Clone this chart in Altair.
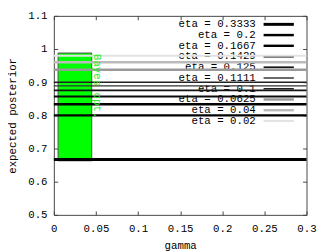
import altair as alt
import pandas as pd

# ---- data ----
etas = ["0.3333", "0.2", "0.1667", "0.1429", "0.125", "0.1111", "0.1", "0.0625", "0.04", "0.02"]
posterior = [0.6667, 0.8, 0.8333, 0.8571, 0.875, 0.8889, 0.9, 0.9375, 0.96, 0.98]
line_colors = ["#000000", "#000000", "#000000", "#0a0a0a", "#151515", "#333333", "#222222", "#9a9a9a", "#bbbbbb", "#e2e2e2"]
line_widths = [3, 2.5, 2.5, 2, 1.8, 1.5, 1.5, 2.5, 2.5, 2]
bar_gamma = [0.005, 0.045]
bar_posterior = [0.663, 0.988]
bar_label = "Bayes opt."
label_pos = [0.048, 0.985]
x_ticks = [0, 0.05, 0.1, 0.15, 0.2, 0.25, 0.3]
y_ticks = [0.5, 0.6, 0.7, 0.8, 0.9, 1.0, 1.1]
x_domain = [0, 0.3]
y_domain = [0.5, 1.1]

FONT = "Liberation Mono"
W, H = 259, 204

lines_df = pd.DataFrame({
    "eta": etas,
    "label": ["eta = " + e for e in etas],
    "posterior": posterior,
    "color": line_colors,
    "width": line_widths,
})
bar_df = pd.DataFrame({"g0": [bar_gamma[0]], "g1": [bar_gamma[1]],
                       "p0": [bar_posterior[0]], "p1": [bar_posterior[1]]})
txt_df = pd.DataFrame({"g": [label_pos[0]], "p": [label_pos[1]], "t": [bar_label]})
mirror_df = pd.DataFrame({"g": [0.0], "p": [0.5]})

xs = alt.Scale(domain=x_domain, nice=False, zero=False)
ys = alt.Scale(domain=y_domain, nice=False, zero=False)

common_axis = dict(offset=-4, tickSize=4, domain=False, grid=False,
                   tickColor="#444444", labelFont=FONT, labelFontSize=11,
                   labelColor="#000000", titleFont=FONT, titleFontSize=11,
                   titleFontWeight="normal", titleColor="#000000")

bottom_axis = alt.Axis(values=x_ticks, labelExpr="format(datum.value, '~g')",
                       labelPadding=8, title="gamma", titlePadding=6,
                       labelFlush=False, **common_axis)
left_axis = alt.Axis(values=y_ticks, labelExpr="format(datum.value, '~g')",
                     labelPadding=7, title="expected posterior", titlePadding=10,
                     **common_axis)
top_axis = alt.Axis(values=x_ticks, orient="top", labels=False, title=None, **common_axis)
right_axis = alt.Axis(values=y_ticks, orient="right", labels=False, title=None, **common_axis)

bar = alt.Chart(bar_df).mark_rect(fill="#00ff00", stroke="#505050", strokeWidth=1).encode(
    x=alt.X("g0:Q", scale=xs, axis=bottom_axis),
    x2="g1:Q",
    y=alt.Y("p0:Q", scale=ys, axis=left_axis),
    y2="p1:Q",
)

bayes_txt = alt.Chart(txt_df).mark_text(
    angle=90, align="left", baseline="alphabetic", font=FONT, fontSize=11, color="#22ee22"
).encode(
    x=alt.X("g:Q", scale=xs, axis=None),
    y=alt.Y("p:Q", scale=ys, axis=None),
    text="t:N",
)

leg_y = alt.Y("eta:N", sort=etas, scale=alt.Scale(type="point", range=[8.7, 107.7], padding=0), axis=None)

leg_text = alt.Chart(lines_df).mark_text(
    align="right", baseline="middle", font=FONT, fontSize=11, color="#000000"
).encode(x=alt.value(207), y=leg_y, text="label:N")

leg_lines = alt.Chart(lines_df).mark_rule().encode(
    x=alt.value(215), x2=alt.value(246), y=leg_y,
    color=alt.Color("color:N", scale=None),
    strokeWidth=alt.StrokeWidth("width:Q", scale=None),
)

rules = alt.Chart(lines_df).mark_rule().encode(
    y=alt.Y("posterior:Q", scale=ys, axis=None),
    color=alt.Color("color:N", scale=None),
    strokeWidth=alt.StrokeWidth("width:Q", scale=None),
)

mirror = alt.Chart(mirror_df).mark_point(opacity=0).encode(
    x=alt.X("g:Q", scale=xs, axis=top_axis),
    y=alt.Y("p:Q", scale=ys, axis=right_axis),
)

chart = alt.layer(bar, leg_text, leg_lines, rules, bayes_txt, mirror).resolve_scale(
    x="independent", y="independent"
).properties(
    width=W, height=H,
    autosize=alt.AutoSizeParams(type="none"),
    padding={"left": 47, "top": 5, "right": 21, "bottom": 35},
).configure_view(stroke="#444444", strokeWidth=1)

chart.save("out.html", embed_options={"renderer": "svg", "actions": False})
